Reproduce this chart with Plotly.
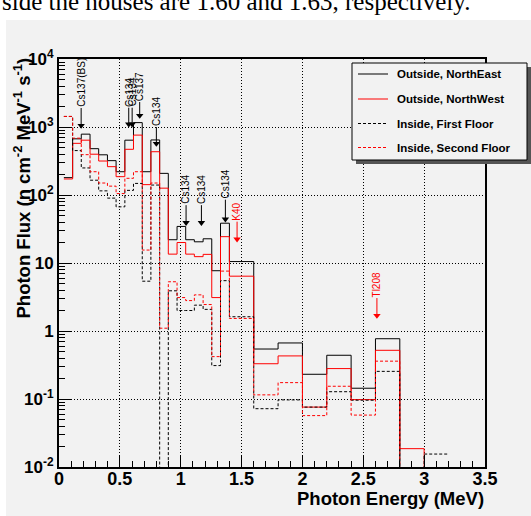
import numpy as np
import plotly.graph_objects as go

# ---- data ----
bin_edges = [0.04, 0.112, 0.183, 0.255, 0.326, 0.398, 0.469, 0.541, 0.612, 0.684,
             0.755, 0.827, 0.898, 0.970, 1.041, 1.112, 1.184, 1.255, 1.327, 1.40,
             1.6, 1.8, 2.0, 2.2, 2.4, 2.6, 2.8, 3.0, 3.2]

outside_ne = [180, 670, 785, 480, 390, 320, 220, 640, 1160, 220, 645, 208, 22, 34.5,
              22, 20.5, 22.7, 7.7, 38.5, 10.5, 0.543, 0.667, 0.231, 0.44, 0.144, 0.77, 0, 0]
outside_nw = [172, 575, 640, 398, 316, 261, 186, 470, 760, 142, 433, 126, 13.5, 20,
              13.5, 12.4, 13.4, 3.1, 24.4, 6.4, 0.33, 0.43, 0.076, 0.28, 0.098, 0.52, 0.0186, 0]
inside_first = [1430, 450, 250, 165, 115, 90, 67, 117, 148, 5.4, 140, 0, 3.9, 2.0,
                2.0, 2.4, 2.08, 0.31, 5.5, 1.62, 0.072, 0.097, 0.076, 0.128, 0.096, 0.255, 0, 0.0155]
inside_second = [1430, 685, 392, 220, 150, 135, 105, 176, 220, 15.5, 150, 1.1, 5.3, 3.1,
                 2.8, 3.4, 2.45, 0.42, 7.6, 1.53, 0.115, 0.174, 0.057, 0.154, 0.058, 0.36, 0, 0]

series_names = ["Outside, NorthEast", "Outside, NorthWest", "Inside, First Floor", "Inside, Second Floor"]

peak_labels = ["Cs137(BS)", "Cs134", "Cs134", "Cs137", "Cs134", "Cs134", "Cs134", "Cs134", "K40", "Tl208"]
peak_energy = [0.182, 0.573, 0.601, 0.663, 0.80, 1.044, 1.17, 1.367, 1.463, 2.612]
peak_tip_flux = [966, 1010, 1010, 1355, 525, 36, 36, 40.5, 20.6, 1.55]

x_tick_vals = [0, 0.5, 1, 1.5, 2, 2.5, 3, 3.5]
x_tick_text = ["0", "0.5", "1", "1.5", "2", "2.5", "3", "3.5"]
y_tick_vals = [0.01, 0.1, 1, 10, 100, 1000, 10000]
y_tick_text = ["10<sup>-2</sup>", "10<sup>-1</sup>", "1", "10", "10<sup>2</sup>", "10<sup>3</sup>", "10<sup>4</sup>"]

# ---- layout geometry ----
W, H = 531, 516
ML, MR, MT, MB = 59, 46, 59, 49
PW, PH = W - ML - MR, H - MT - MB
DECADE_PX = PH / 6.0
FONT = "Liberation Sans"
BG = "#f2f2f2"


def px2paper_x(px):
    return (px - ML) / PW


def py2paper_y(py):
    return (H - MB - py) / PH


def step_y(vals):
    v = [x if x > 0 else 1e-6 for x in vals]
    return v + [v[-1]]


fig = go.Figure()
DASH = "3px,2px"
styles = [("black", "solid"), ("red", "solid"), ("black", DASH), ("red", DASH)]
for name, vals, (col, dash) in zip(series_names, [outside_ne, outside_nw, inside_first, inside_second], styles):
    fig.add_trace(go.Scatter(
        x=bin_edges, y=step_y(vals), mode="lines", line_shape="hv", name=name,
        line=dict(color=col, width=1, dash=dash), showlegend=False))

# ---- peak arrows (shaft + head) and rotated labels ----
shaft = [20, 19, 19, 16, 19, 20, 20, 22, 20, 20]
for colname in ["black", "red"]:
    xs, ys, hx, hy = [], [], [], []
    for lab, e, tip, sl in zip(peak_labels, peak_energy, peak_tip_flux, shaft):
        col = "red" if lab in ("K40", "Tl208") else "black"
        if col != colname:
            continue
        tail = tip * 10 ** (sl / DECADE_PX)
        xs += [e, e, None]
        ys += [tail, tip * 10 ** (3 / DECADE_PX), None]
        hx.append(e)
        hy.append(tip * 10 ** (2.5 / DECADE_PX))
    fig.add_trace(go.Scatter(x=xs, y=ys, mode="lines", line=dict(color=colname, width=1),
                             showlegend=False, hoverinfo="skip"))
    fig.add_trace(go.Scatter(x=hx, y=hy, mode="markers", showlegend=False, hoverinfo="skip",
                             marker=dict(symbol="triangle-down", size=6.5, color=colname,
                                         line=dict(width=0))))
for lab, e, tip, sl in zip(peak_labels, peak_energy, peak_tip_flux, shaft):
    col = "red" if lab in ("K40", "Tl208") else "black"
    fig.add_annotation(x=e, y=np.log10(tip), xref="x", yref="y", text=lab, showarrow=False,
                       yshift=sl, yanchor="bottom", xanchor="center", textangle=-90,
                       font=dict(family=FONT, size=10, color=col), borderpad=0)

# ---- canvas background (grey, white strip at top/left) ----
fig.add_shape(type="rect", xref="paper", yref="paper",
              x0=px2paper_x(6), x1=px2paper_x(531), y0=py2paper_y(516), y1=py2paper_y(20),
              fillcolor=BG, line=dict(width=0), layer="below")

# ---- legend (ROOT style box with shadow) ----
fig.add_shape(type="rect", xref="paper", yref="paper",
              x0=px2paper_x(356), x1=px2paper_x(531), y0=py2paper_y(164), y1=py2paper_y(67),
              fillcolor="#555555", line=dict(width=0), layer="above")
fig.add_shape(type="rect", xref="paper", yref="paper",
              x0=px2paper_x(352), x1=px2paper_x(527), y0=py2paper_y(160), y1=py2paper_y(63),
              fillcolor=BG, line=dict(color="black", width=1), layer="above")
leg_rows = [74, 99, 123.5, 147.5]
for name, (col, dash), row in zip(series_names, styles, leg_rows):
    fig.add_shape(type="line", xref="paper", yref="paper",
                  x0=px2paper_x(358), x1=px2paper_x(388), y0=py2paper_y(row), y1=py2paper_y(row),
                  line=dict(color=col, width=1, dash=dash), layer="above")
    fig.add_annotation(xref="paper", yref="paper", x=px2paper_x(395), y=py2paper_y(row),
                       xanchor="left", yanchor="middle", text=name, showarrow=False,
                       font=dict(family=FONT, size=11.5, color="black", weight="bold"))

# ---- axis titles ----
fig.add_annotation(xref="paper", yref="paper", x=1.0, y=py2paper_y(487), xanchor="right", yanchor="top",
                   text="Photon Energy (MeV)", showarrow=False, borderpad=0,
                   font=dict(family=FONT, size=18.5, color="black", weight="bold"))
fig.add_annotation(xref="paper", yref="paper", x=px2paper_x(22), y=py2paper_y(57), xanchor="center",
                   yanchor="top",
                   text="Photon Flux (n cm<sup>-2</sup> MeV<sup>-1</sup> s<sup>-1</sup>)", textangle=-90,
                   showarrow=False, borderpad=0,
                   font=dict(family=FONT, size=18.5, color="black", weight="bold"))
# surrounding document text (cut at the top edge, as in the reference)
fig.add_annotation(xref="paper", yref="paper", x=px2paper_x(1), y=py2paper_y(16), xanchor="left",
                   yanchor="bottom", text="side the houses are 1.60 and 1.63, respectively.",
                   showarrow=False, borderpad=0,
                   font=dict(family="Liberation Serif", size=25, color="black"))

x_minor = [round(0.1 * i, 1) for i in range(36)]
y_minor = [k * 10.0 ** n for n in range(-2, 4) for k in range(2, 10)]
GRID_DASH = "1px,2px"

fig.update_layout(
    width=W, height=H, margin=dict(l=ML, r=MR, t=MT, b=MB, pad=0),
    paper_bgcolor="white", plot_bgcolor=BG,
    font=dict(family=FONT, color="black"),
    showlegend=False,
    xaxis=dict(range=[0, 3.5], tickmode="array", tickvals=x_tick_vals, ticktext=x_tick_text,
               ticks="inside", ticklen=12, tickwidth=1, tickcolor="black", ticklabelstandoff=-6,
               showline=True, linewidth=2, linecolor="black", mirror=True,
               showgrid=True, gridcolor="black", griddash=GRID_DASH, gridwidth=1, zeroline=False,
               tickfont=dict(family=FONT, size=18, color="black", weight="bold"),
               minor=dict(tickmode="array", tickvals=x_minor, ticks="inside", ticklen=6,
                          tickcolor="black", showgrid=False)),
    yaxis=dict(type="log", range=[-2, 4], tickmode="array", tickvals=y_tick_vals, ticktext=y_tick_text,
               ticks="inside", ticklen=12, tickwidth=1, tickcolor="black",
               showline=True, linewidth=2, linecolor="black", mirror=True,
               showgrid=True, gridcolor="black", griddash=GRID_DASH, gridwidth=1, zeroline=False,
               tickfont=dict(family=FONT, size=17, color="black", weight="bold"),
               minor=dict(tickmode="array", tickvals=y_minor, ticks="inside", ticklen=6,
                          tickcolor="black", showgrid=False)),
)

fig.write_html("out.html", config={"displayModeBar": False},
               post_script="document.body.style.margin='0px';document.body.style.overflow='hidden';")
